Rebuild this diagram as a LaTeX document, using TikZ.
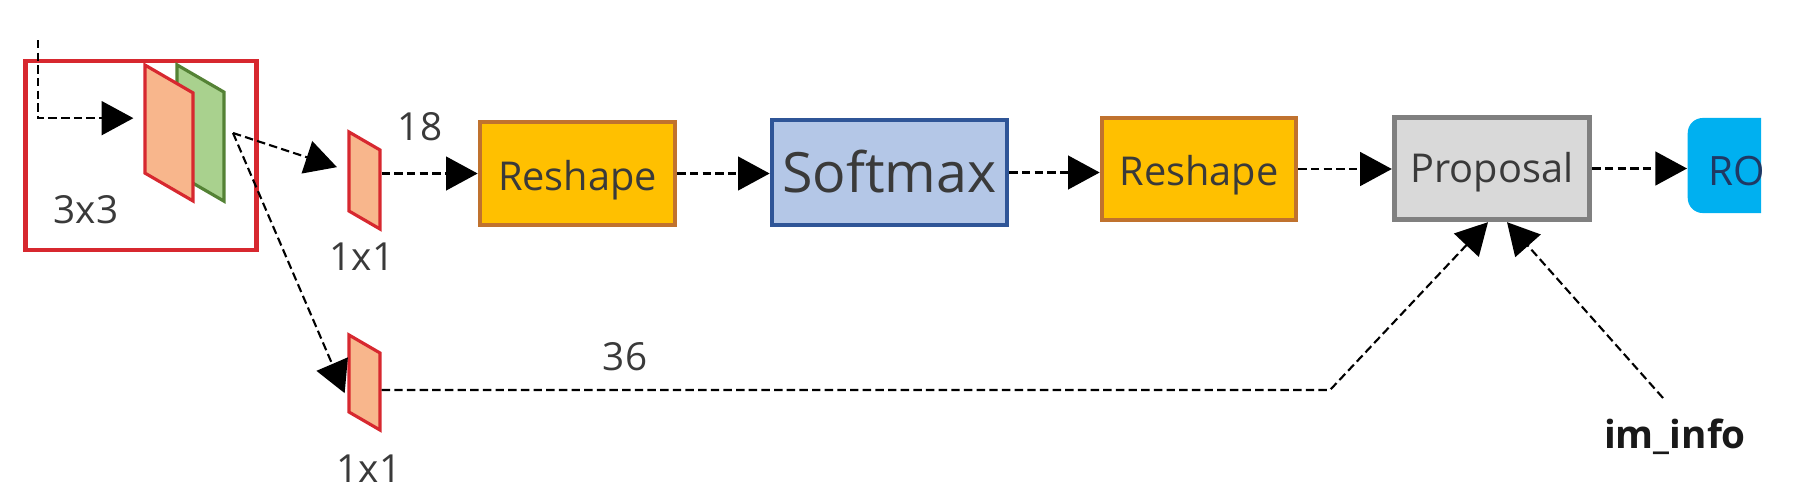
\documentclass[tikz,border=0pt]{standalone}
\usepackage{fontspec}
\setmainfont{Open Sans}
\usetikzlibrary{arrows.meta,calc}

\definecolor{rpnred}{HTML}{D7282F}
\definecolor{slaborange}{HTML}{F8B68C}
\definecolor{slabgreen}{HTML}{A9D18E}
\definecolor{slabgreenline}{HTML}{548235}
\definecolor{reshapefill}{HTML}{FFC000}
\definecolor{reshapeline}{HTML}{C0722E}
\definecolor{softfill}{HTML}{B4C7E7}
\definecolor{softline}{HTML}{2F5597}
\definecolor{propfill}{HTML}{D9D9D9}
\definecolor{propline}{HTML}{808080}
\definecolor{roifill}{HTML}{00B0F0}
\definecolor{roitext}{HTML}{1F3864}
\definecolor{labelgray}{HTML}{3A3A3A}

\tikzset{
  flow/.style={-{Triangle[length=9pt,width=9.6pt]}, line width=0.6pt, dash pattern=on 2.4pt off 1.2pt},
  box/.style={draw, line width=1.3pt, inner sep=0pt, text=labelgray, text depth=0pt},
  slab/.style={draw=rpnred, fill=slaborange, line width=0.9pt, inner sep=0pt, yslant=-0.58},
  lbl/.style={text=labelgray, font=\fontsize{11}{13}\selectfont, anchor=base, inner sep=0pt},
}

\begin{document}
\begin{tikzpicture}[x=0.01cm, y=-0.01cm]
  \useasboundingbox (0,0) rectangle (1807,497);

  % 3x3 conv block
  \node[draw=rpnred, line width=1.2pt, inner sep=0pt,
    minimum width=2.31cm, minimum height=1.89cm] (rpn) at (141,155.5) {};
  \node[slab, draw=slabgreenline, fill=slabgreen,
    minimum width=0.47cm, minimum height=1.09cm] (convb) at (200.5,133) {};
  \node[slab, minimum width=0.48cm, minimum height=1.08cm] (conva) at (169,133) {};
  \node[lbl] (k3) at (86,223) {3x3};

  % 1x1 convs
  \node[slab, minimum width=0.31cm, minimum height=0.79cm] (onea) at (364.5,180.5) {};
  \node[slab, minimum width=0.31cm, minimum height=0.77cm] (oneb) at (364.5,382.5) {};
  \node[lbl] (k1a) at (362,270) {1x1};
  \node[lbl] (k1b) at (369,482) {1x1};
  \node[lbl] (n18) at (420,140) {18};
  \node[lbl] (n36) at (625,370) {36};

  % main boxes
  \node[box, draw=reshapeline, fill=reshapefill, minimum width=1.95cm, minimum height=1.03cm,
    text height=0.33cm, font=\fontsize{11.3}{13}\selectfont] (resha) at (577.5,173.5) {Reshape};
  \node[box, draw=softline, fill=softfill, minimum width=2.35cm, minimum height=1.05cm,
    text height=0.39cm, font=\fontsize{15.8}{18}\selectfont] (soft) at (889.5,172.5) {Softmax};
  \node[box, draw=reshapeline, fill=reshapefill, minimum width=1.94cm, minimum height=1.02cm,
    text height=0.32cm, font=\fontsize{11.3}{13}\selectfont] (reshb) at (1199,169) {Reshape};
  \node[box, draw=propline, fill=propfill, line width=1.5pt, minimum width=1.95cm, minimum height=1.02cm,
    text height=0.27cm, font=\fontsize{11.3}{13}\selectfont] (prop) at (1492,168.5) {Proposal};

  \begin{scope}
    \clip (1680,100) rectangle (1761,240);
    \node[fill=roifill, rounded corners=0.15cm, anchor=west, minimum height=0.95cm,
      text width=1.5cm, inner xsep=0.21cm, inner ysep=0pt, text height=0.39cm, text depth=0pt,
      text=roitext, font=\fontsize{11.5}{13}\selectfont] (roi) at (1687,165.5) {RO};
  \end{scope}

  \node[anchor=base, inner sep=0pt, text=black!90,
    font=\fontsize{11}{13}\selectfont\bfseries] (iminfo) at (1675,448) {im\_info};

  % connectors
  \coordinate (feed) at (38,40);
  \coordinate (split) at (233,133);
  \coordinate (bend) at (1330,390);
  \coordinate (infotail) at (1663,398);

  \draw[flow, shorten >=0.1cm] (feed) |- (conva.west);
  \draw[flow, shorten >=0.11cm] (split) -- (onea.west);
  \draw[flow, shorten >=0.07cm] (split) -- ($(oneb.west)+(0,27)$);
  \draw[flow] (onea.east |- resha.west) -- (resha.west);
  \draw[flow] (resha.east) -- (resha.east -| soft.west);
  \draw[flow] (soft.east) -- (soft.east -| reshb.west);
  \draw[flow] (reshb.east) -- (reshb.east -| prop.west);
  \draw[flow] (prop.east) -- (prop.east -| roi.west);
  \draw[flow] (oneb.east |- bend) -- (bend) -- ($(prop.south)+(-4,0)$);
  \draw[flow] (infotail) -- ($(prop.south)+(15,0)$);
\end{tikzpicture}
\end{document}
